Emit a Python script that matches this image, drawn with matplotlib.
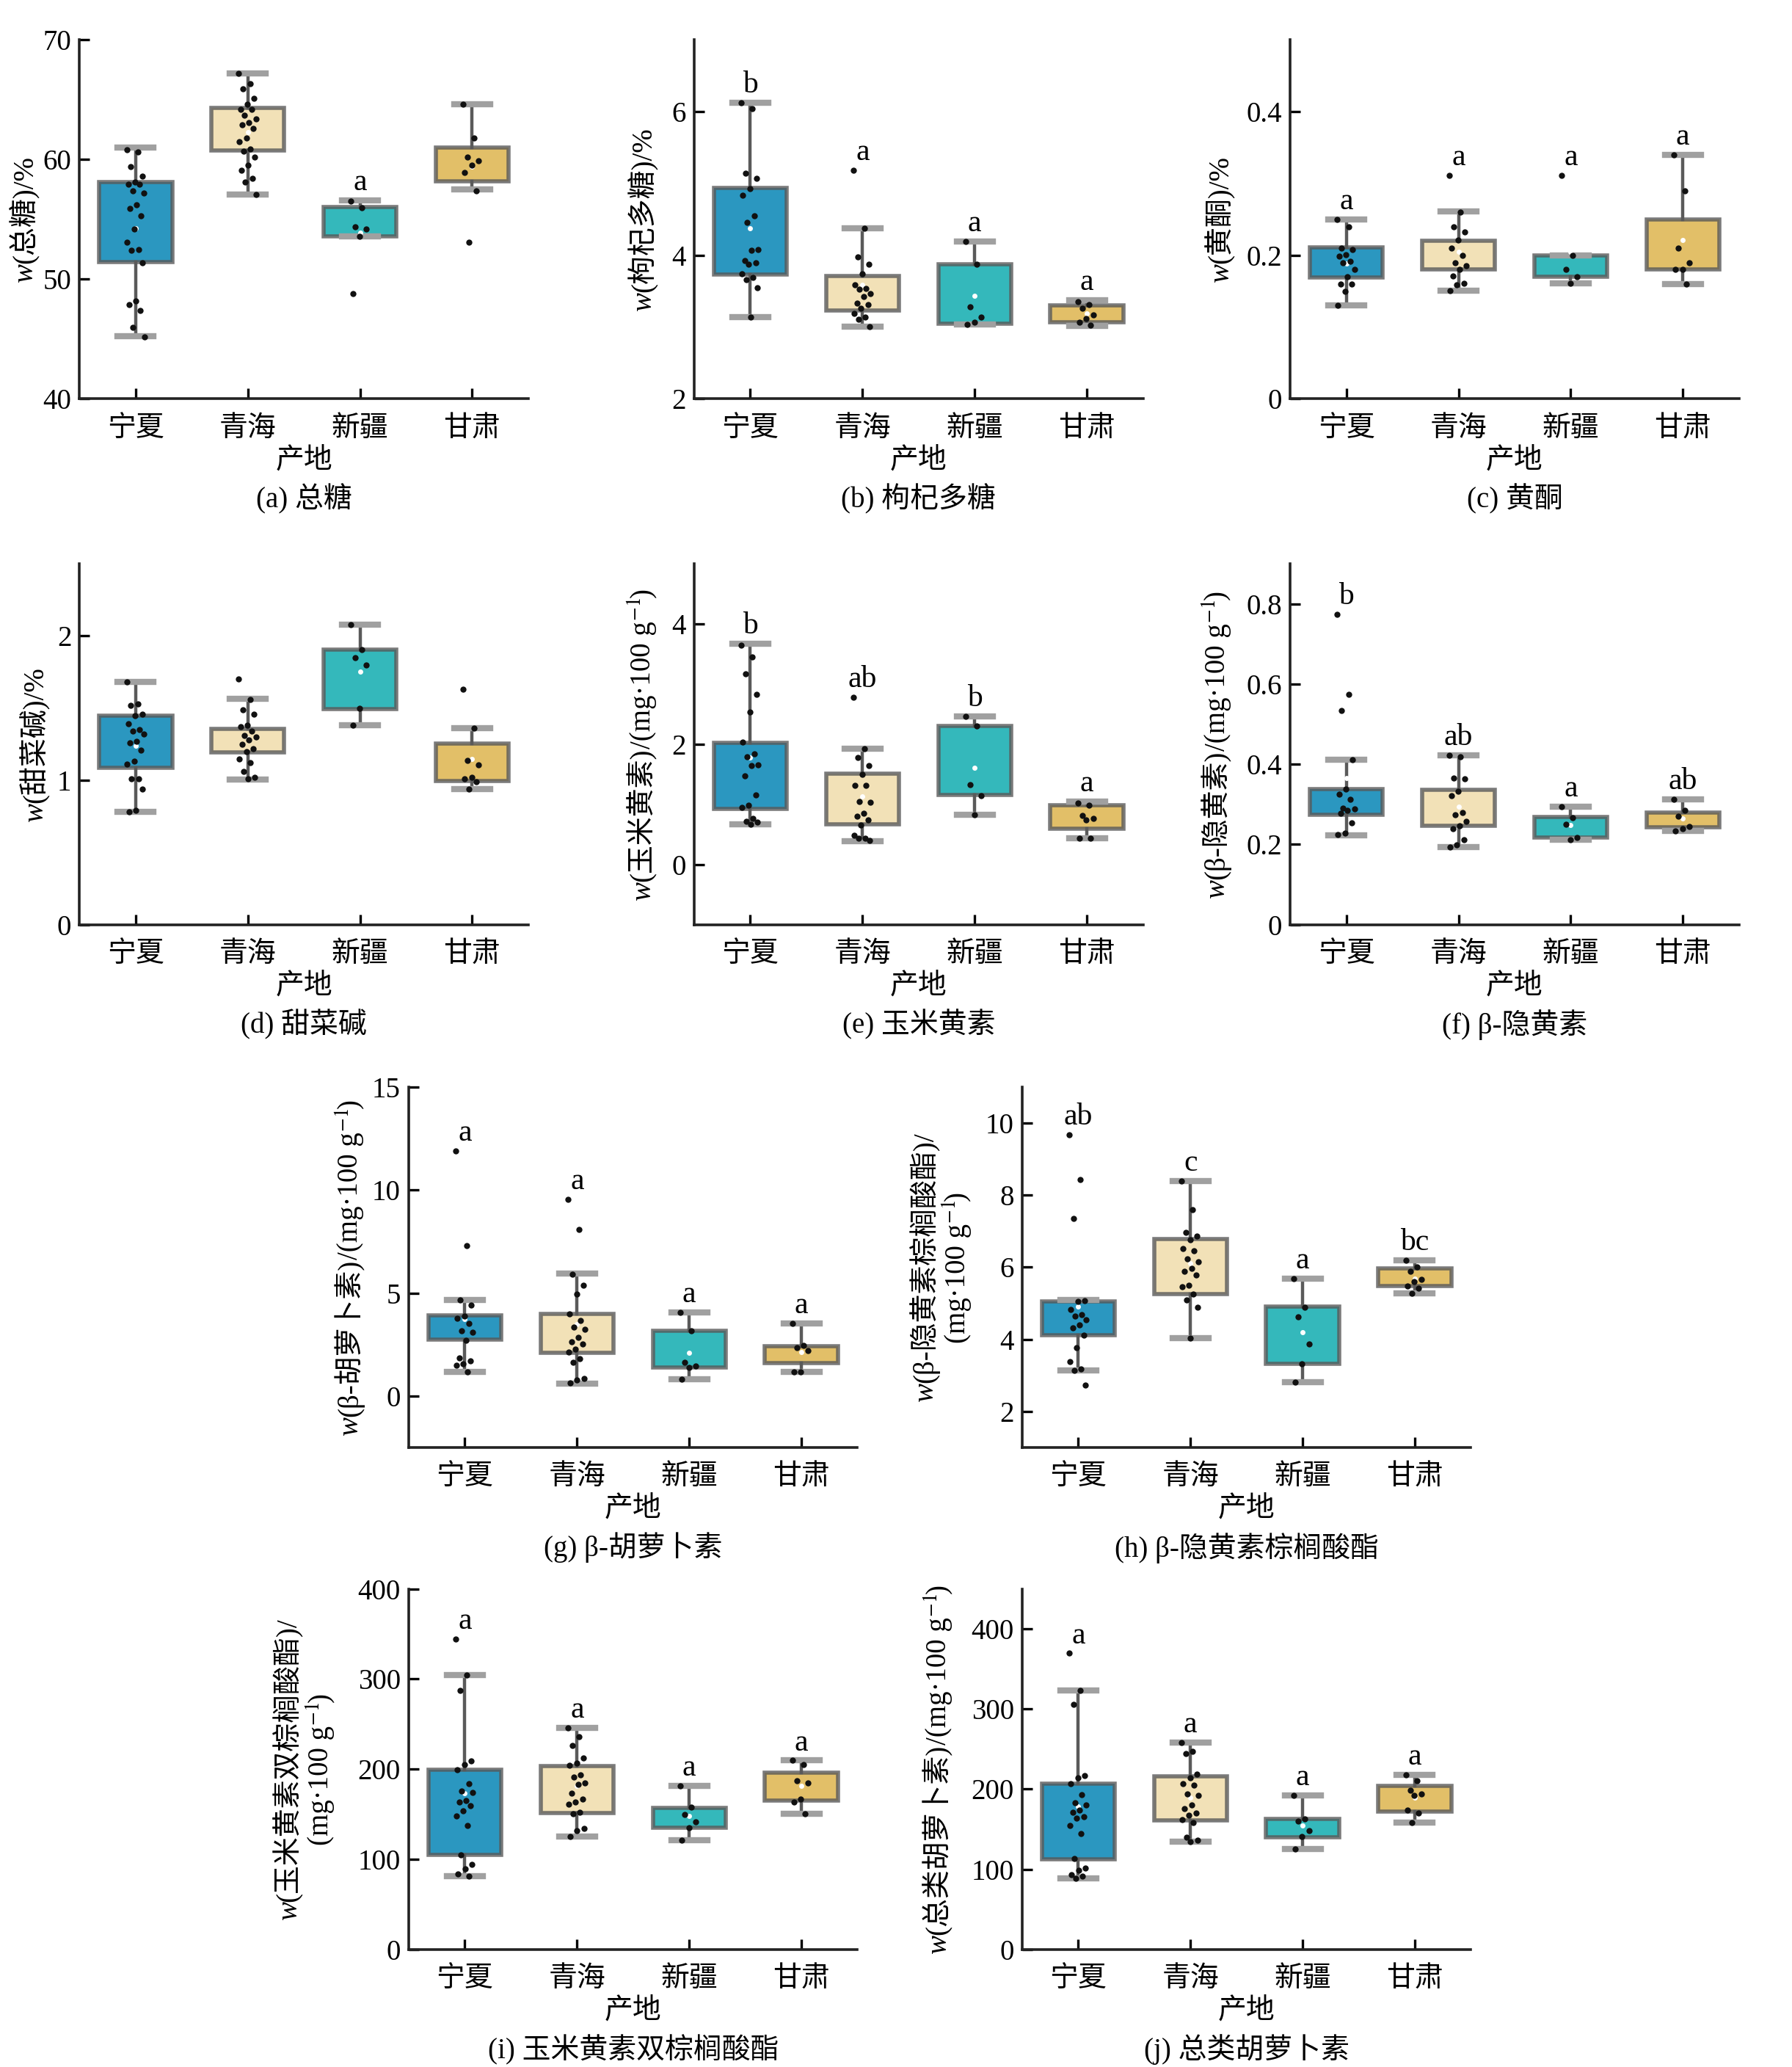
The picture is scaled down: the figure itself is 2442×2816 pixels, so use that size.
import numpy as np
import matplotlib.pyplot as plt
from matplotlib.transforms import IdentityTransform

plt.rcParams['font.family'] = ['Liberation Serif', 'Noto Sans CJK SC', 'DejaVu Serif']
plt.rcParams['mathtext.fontset'] = 'stix'
plt.rcParams['font.size'] = 14
plt.rcParams['axes.unicode_minus'] = False

regions = ['宁夏', '青海', '新疆', '甘肃']
colors = ['#2b97c0', '#f2e1b7', '#34b8bb', '#e2bf68']

# (a) 总糖
a_pts = [[60.8, 60.6, 59.4, 58.6, 58.1, 57.95, 57.9, 57.4, 57.2, 56.2, 55.9, 55.3, 54.2, 53.1,
          52.5, 52.4, 51.4, 48.2, 47.9, 47.4, 46.0, 45.2],
         [67.2, 66.3, 65.9, 65.1, 64.6, 64.2, 64.2, 63.7, 63.4, 63.1, 62.9, 62.6, 61.8, 61.5,
          60.9, 60.7, 60.2, 59.5, 59.1, 58.4, 58.1, 57.05],
         [56.5, 55.95, 54.4, 54.2, 53.6, 48.8],
         [64.6, 61.8, 60.2, 59.9, 59.5, 58.9, 57.4, 53.1]]
a_q1 = [51.46, 60.76, 53.57, 58.2]
a_q3 = [58.1, 64.3, 56.0, 61.0]
a_lo = [45.25, 57.05, 53.57, 57.5]
a_hi = [60.98, 67.2, 56.57, 64.6]
a_sig = ['', '', 'a', '']

# (b) 枸杞多糖
b_pts = [[6.12, 6.04, 5.14, 5.07, 4.93, 4.83, 4.55, 4.46, 4.08, 4.07, 3.93, 3.90, 3.87, 3.74,
          3.69, 3.66, 3.55, 3.14],
         [5.18, 4.38, 3.98, 3.87, 3.74, 3.59, 3.54, 3.53, 3.47, 3.43, 3.33, 3.31, 3.26, 3.19,
          3.14, 3.11, 3.01],
         [4.19, 3.87, 3.28, 3.14, 3.07, 3.04],
         [3.35, 3.31, 3.26, 3.17, 3.12, 3.07, 3.03]]
b_q1 = [3.735, 3.23, 3.05, 3.07]
b_q3 = [4.94, 3.71, 3.87, 3.30]
b_lo = [3.14, 3.01, 3.04, 3.02]
b_hi = [6.12, 4.38, 4.19, 3.37]
b_sig = ['b', 'a', 'a', 'a']

# (c) 黄酮
c_pts = [[0.25, 0.24, 0.21, 0.208, 0.201, 0.199, 0.192, 0.19, 0.18, 0.17, 0.16, 0.16, 0.15, 0.13],
         [0.311, 0.26, 0.24, 0.232, 0.221, 0.21, 0.2, 0.19, 0.185, 0.18, 0.171, 0.161, 0.159, 0.151],
         [0.311, 0.2, 0.18, 0.17, 0.161],
         [0.34, 0.29, 0.21, 0.19, 0.18, 0.18, 0.16]]
c_q1 = [0.169, 0.18, 0.17, 0.18]
c_q3 = [0.2105, 0.22, 0.2, 0.25]
c_lo = [0.13, 0.151, 0.161, 0.16]
c_hi = [0.25, 0.261, 0.2, 0.34]
c_sig = ['a', 'a', 'a', 'a']

# (d) 甜菜碱
d_pts = [[1.68, 1.53, 1.52, 1.46, 1.45, 1.39, 1.35, 1.34, 1.32, 1.27, 1.26, 1.21, 1.13, 1.11,
          1.01, 1.01, 0.94, 0.79, 0.78],
         [1.70, 1.56, 1.49, 1.46, 1.38, 1.37, 1.34, 1.31, 1.30, 1.28, 1.25, 1.22, 1.20, 1.15,
          1.12, 1.06, 1.02, 1.01],
         [2.08, 1.906, 1.85, 1.80, 1.50, 1.38],
         [1.63, 1.36, 1.14, 1.105, 1.02, 1.01, 0.99, 0.94]]
d_q1 = [1.087, 1.194, 1.496, 0.995]
d_q3 = [1.45, 1.356, 1.906, 1.253]
d_lo = [0.782, 1.005, 1.38, 0.937]
d_hi = [1.684, 1.567, 2.08, 1.363]
d_sig = ['', '', '', '']

# (e) 玉米黄素
e_pts = [[3.65, 3.45, 3.17, 2.83, 2.53, 2.03, 1.84, 1.79, 1.66, 1.64, 1.47, 1.16, 0.99, 0.95,
          0.76, 0.72, 0.70, 0.67],
         [2.78, 1.92, 1.78, 1.64, 1.50, 1.32, 1.32, 1.05, 1.04, 0.85, 0.80, 0.74, 0.66, 0.48,
          0.44, 0.43, 0.40],
         [2.46, 2.30, 1.33, 1.14, 0.83],
         [1.02, 0.99, 0.82, 0.77, 0.74, 0.44, 0.44]]
e_q1 = [0.92, 0.67, 1.16, 0.60]
e_q3 = [2.02, 1.51, 2.30, 0.99]
e_lo = [0.67, 0.39, 0.83, 0.44]
e_hi = [3.67, 1.92, 2.46, 1.05]
e_sig = ['b', 'ab', 'b', 'a']

# (f) β-隐黄素
f_pts = [[0.774, 0.574, 0.534, 0.412, 0.338, 0.325, 0.312, 0.291, 0.289, 0.285, 0.278, 0.253,
          0.228, 0.224],
         [0.422, 0.418, 0.365, 0.363, 0.333, 0.321, 0.28, 0.274, 0.257, 0.246, 0.24, 0.211,
          0.198, 0.194],
         [0.295, 0.266, 0.251, 0.218, 0.211],
         [0.312, 0.285, 0.27, 0.245, 0.24, 0.234]]
f_q1 = [0.274, 0.247, 0.217, 0.242]
f_q3 = [0.3376, 0.336, 0.268, 0.28]
f_lo = [0.2236, 0.194, 0.211, 0.234]
f_hi = [0.412, 0.422, 0.295, 0.312]
f_sig = ['b', 'ab', 'a', 'ab']

# (g) β-胡萝卜素
g_pts = [[11.9, 7.3, 4.67, 4.40, 3.87, 3.79, 3.51, 3.16, 3.08, 2.71, 1.85, 1.69, 1.56, 1.48, 1.16],
         [9.56, 8.1, 5.9, 5.39, 4.94, 3.98, 3.67, 3.35, 3.24, 2.84, 2.65, 2.52, 2.28, 2.12,
          1.80, 1.64, 0.84, 0.77, 0.64],
         [4.06, 3.16, 1.64, 1.45, 1.40, 0.80],
         [3.51, 2.44, 2.33, 2.20, 1.16, 1.16]]
g_q1 = [2.73, 2.09, 1.37, 1.61]
g_q3 = [3.92, 4.0, 3.16, 2.41]
g_lo = [1.16, 0.61, 0.80, 1.16]
g_hi = [4.67, 5.95, 4.06, 3.51]
g_sig = ['a', 'a', 'a', 'a']

# (h) β-隐黄素棕榈酸酯
h_pts = [[9.68, 8.44, 7.36, 5.08, 5.05, 4.82, 4.69, 4.64, 4.55, 4.40, 4.33, 4.12, 3.78, 3.39,
          3.18, 3.14, 2.73],
         [8.40, 7.60, 6.97, 6.87, 6.77, 6.51, 6.46, 6.24, 6.15, 5.96, 5.89, 5.78, 5.51, 5.46,
          5.25, 5.10, 4.90, 4.03],
         [5.69, 4.90, 4.62, 3.87, 3.32, 2.82],
         [6.19, 6.01, 5.89, 5.67, 5.60, 5.49, 5.42, 5.28]]
h_q1 = [4.11, 5.25, 3.32, 5.49]
h_q3 = [5.05, 6.78, 4.92, 5.96]
h_lo = [3.14, 4.03, 2.82, 5.28]
h_hi = [5.10, 8.40, 5.69, 6.19]
h_sig = ['ab', 'c', 'a', 'bc']

# (i) 玉米黄素双棕榈酸酯
i_pts = [[344.5, 304.6, 287.2, 209.2, 204.9, 199.5, 183.9, 175.9, 174.1, 165, 163.2, 159.6,
          154.1, 148, 137.8, 105.2, 94.3, 89.6, 83.4, 81.6],
         [245.5, 235.7, 225.9, 212.2, 206.7, 204.2, 194.0, 191.1, 185, 183.1, 173, 166.8, 163.2,
          161.4, 152.3, 150.5, 134.2, 131.6, 125.1],
         [181.3, 157.8, 149.8, 141.4, 135.3, 121.5],
         [209.6, 204.9, 187.5, 185, 166.8, 163.2, 150.5]]
i_q1 = [105.2, 151.2, 135.3, 165]
i_q3 = [199.5, 203.1, 157, 195.8]
i_lo = [81.6, 125.1, 120.8, 150.5]
i_hi = [304.6, 245.5, 181.3, 209.6]
i_sig = ['a', 'a', 'a', 'a']

# (j) 总类胡萝卜素
j_pts = [[369.6, 323, 305.7, 217.4, 214.6, 206.5, 193.1, 183.4, 180.2, 174.1, 171.3, 166, 164,
          155.1, 144.5, 113.4, 101.2, 99.2, 93.1, 91.1, 88.3],
         [258.3, 247, 244.1, 218.6, 214.6, 206.5, 205.3, 194.3, 192.3, 180.2, 176.1, 170, 167.2,
          161.9, 157.9, 139.7, 136.4, 134.8],
         [192.3, 162.8, 159.9, 147.8, 140.5, 125.5],
         [217.8, 210.5, 198.4, 194.3, 192.3, 174.1, 170, 157.9]]
j_q1 = [112.6, 161.1, 139.7, 172.1]
j_q3 = [206.5, 215.8, 162.8, 204.5]
j_lo = [88.3, 134.8, 125.5, 157.9]
j_hi = [323, 258.3, 192.3, 217.8]
j_sig = ['a', 'a', 'a', 'a']

# y labels as pieces: (text, italic); one list per line
W = ('w', True)
UNIT = [('/(mg·100 g', False), ('$^{-1}$', False), (')', False)]
UNIT2 = [('(mg·100 g', False), ('$^{-1}$', False), (')', False)]

panels = [
    (a_pts, a_q1, a_q3, a_lo, a_hi, a_sig, [0.0444, 0.807, 0.2504, 0.1738], (40, 70),
     [40, 50, 60, 70], [[W, ('(总糖)/%', False)]], -0.127, '(a) 总糖'),
    (b_pts, b_q1, b_q3, b_lo, b_hi, b_sig, [0.3874, 0.807, 0.2504, 0.1738], (2, 7),
     [2, 4, 6], [[W, ('(枸杞多糖)/%', False)]], -0.118, '(b) 枸杞多糖'),
    (c_pts, c_q1, c_q3, c_lo, c_hi, c_sig, [0.72, 0.807, 0.2504, 0.1738], (0, 0.5),
     [0, 0.2, 0.4], [[W, ('(黄酮)/%', False)]], -0.16, '(c) 黄酮'),
    (d_pts, d_q1, d_q3, d_lo, d_hi, d_sig, [0.0444, 0.5527, 0.2504, 0.1745], (0, 2.5),
     [0, 1, 2], [[W, ('(甜菜碱)/%', False)]], -0.104, '(d) 甜菜碱'),
    (e_pts, e_q1, e_q3, e_lo, e_hi, e_sig, [0.3874, 0.5527, 0.2504, 0.1745], (-1, 5),
     [0, 2, 4], [[W, ('(玉米黄素)', False)] + UNIT], -0.121, '(e) 玉米黄素'),
    (f_pts, f_q1, f_q3, f_lo, f_hi, f_sig, [0.72, 0.5527, 0.2504, 0.1745], (0, 0.9),
     [0, 0.2, 0.4, 0.6, 0.8], [[W, ('(β-隐黄素)', False)] + UNIT], -0.169, '(f) β-隐黄素'),
    (g_pts, g_q1, g_q3, g_lo, g_hi, g_sig, [0.2281, 0.2997, 0.2504, 0.1744], (-2.5, 15),
     [0, 5, 10, 15], [[W, ('(β-胡萝卜素)', False)] + UNIT], -0.136, '(g) β-胡萝卜素'),
    (h_pts, h_q1, h_q3, h_lo, h_hi, h_sig, [0.5704, 0.2997, 0.2504, 0.1744], (1, 11),
     [2, 4, 6, 8, 10], [[W, ('(β-隐黄素棕榈酸酯)/', False)], UNIT2], -0.186,
     '(h) β-隐黄素棕榈酸酯'),
    (i_pts, i_q1, i_q3, i_lo, i_hi, i_sig, [0.2281, 0.0569, 0.2504, 0.1744], (0, 400),
     [0, 100, 200, 300, 400], [[W, ('(玉米黄素双棕榈酸酯)/', False)], UNIT2], -0.237,
     '(i) 玉米黄素双棕榈酸酯'),
    (j_pts, j_q1, j_q3, j_lo, j_hi, j_sig, [0.5704, 0.0569, 0.2504, 0.1744], (0, 450),
     [0, 100, 200, 300, 400], [[W, ('(总类胡萝卜素)', False)] + UNIT], -0.192,
     '(j) 总类胡萝卜素'),
]

DPI = 200
FS = 14
fig = plt.figure(figsize=(12.21, 14.08), dpi=DPI)
renderer = fig.canvas.get_renderer()


def vertical_label(ax, xfrac, lines):
    # rotated label made of pieces, so the italic w and CJK text share one baseline
    box = ax.get_window_extent(renderer)
    cy = (box.y0 + box.y1) / 2
    cx = box.x0 + xfrac * box.width
    em = FS * DPI / 72
    gap = 1.12 * em
    base0 = cx + 0.35 * em - (len(lines) - 1) * gap / 2
    for li, pieces in enumerate(lines):
        widths = []
        for s, it in pieces:
            t = fig.text(0, 0, s, fontsize=FS, fontstyle='italic' if it else 'normal')
            widths.append(t.get_window_extent(renderer).width)
            t.remove()
        y = cy - sum(widths) / 2
        bx = base0 + li * gap
        for (s, it), wd in zip(pieces, widths):
            fig.text(bx, y, s, transform=IdentityTransform(), fontsize=FS,
                     fontstyle='italic' if it else 'normal', rotation=90,
                     rotation_mode='anchor', ha='left', va='baseline')
            y += wd


for pts, q1, q3, lo, hi, sig, rect, ylim, yticks, ylabel, ylx, caption in panels:
    ax = fig.add_axes(rect)
    stats = []
    for k in range(4):
        stats.append(dict(q1=q1[k], q3=q3[k], med=(q1[k] + q3[k]) / 2, whislo=lo[k],
                          whishi=hi[k], mean=np.mean(pts[k]), fliers=[]))
    bp = ax.bxp(stats, positions=range(4), widths=0.65, patch_artist=True, showmeans=True,
                showfliers=False, capwidths=0.32,
                boxprops=dict(edgecolor=(0.35, 0.35, 0.35, 0.8), linewidth=2),
                whiskerprops=dict(color='#5a5a5a', linewidth=1.6),
                capprops=dict(color='#a0a0a0', linewidth=3),
                meanprops=dict(marker='o', markerfacecolor='white', markeredgecolor='none',
                               markersize=2.5))
    for patch, col in zip(bp['boxes'], colors):
        patch.set_facecolor(col)
    for m in bp['medians']:
        m.set_visible(False)

    # jittered points
    for k, p in enumerate(pts):
        jit = ((np.arange(len(p)) * 0.618034) % 1 - 0.5) * 0.16
        ax.scatter(k + jit, p, s=9, c='#111111', linewidths=0, zorder=4)

    # significance letters
    for k, s in enumerate(sig):
        if s:
            top = max(max(pts[k]), hi[k])
            ax.annotate(s, (k, top), xytext=(0, 5), textcoords='offset points',
                        ha='center', va='baseline', fontsize=15)

    ax.set_xlim(-0.5, 3.5)
    ax.set_ylim(*ylim)
    ax.set_xticks(range(4))
    ax.set_xticklabels(regions)
    ax.set_yticks(yticks)
    ax.set_yticklabels([f'{v:g}' for v in yticks])
    ax.tick_params(direction='in', length=5, width=1.2, labelsize=FS)
    ax.tick_params(axis='x', pad=8)
    ax.tick_params(axis='y', pad=4)
    for side in ['top', 'right']:
        ax.spines[side].set_visible(False)
    for side in ['left', 'bottom']:
        ax.spines[side].set_linewidth(1.3)
        ax.spines[side].set_color('#222222')

    vertical_label(ax, ylx, ylabel)
    ax.text(0.5, -0.172, '产地', transform=ax.transAxes, ha='center', va='center', fontsize=FS)
    ax.text(0.5, -0.278, caption, transform=ax.transAxes, ha='center', va='center', fontsize=FS)

fig.savefig('out.png', dpi=DPI)
